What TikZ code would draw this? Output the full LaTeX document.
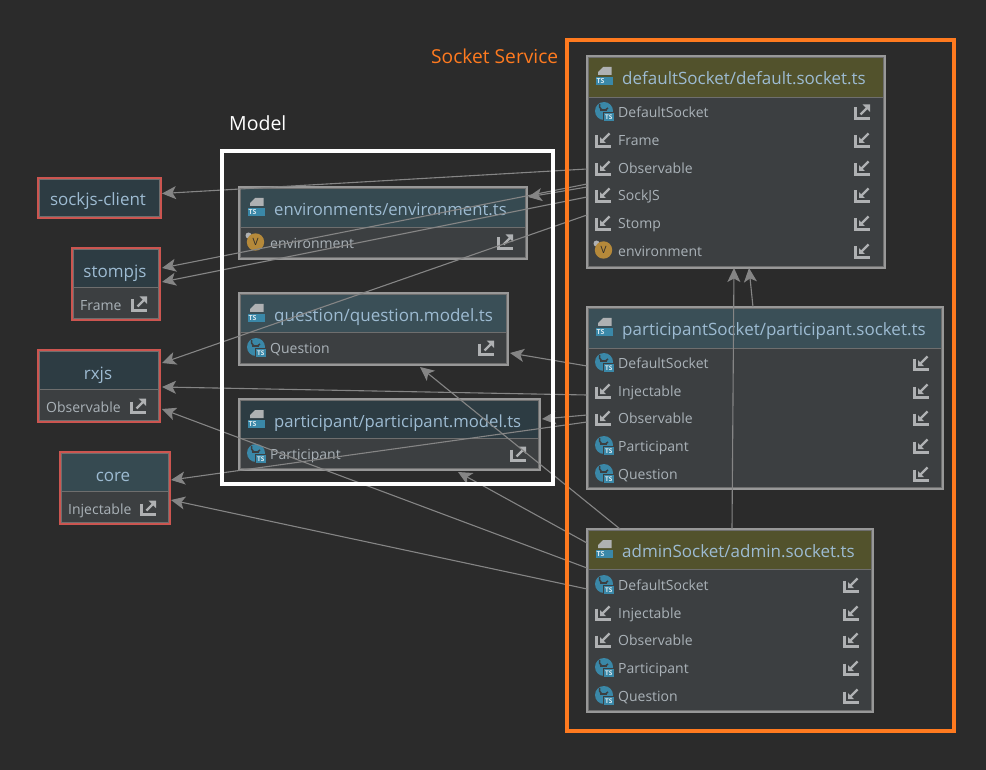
\documentclass[tikz,border=0pt]{standalone}
\usepackage{fontspec}
\setmainfont{Open Sans}
\usetikzlibrary{calc,arrows.meta}
\definecolor{bgc}{HTML}{2B2B2B}
\definecolor{bodyc}{HTML}{3C3F41}
\definecolor{olive}{HTML}{52522C}
\definecolor{tealA}{HTML}{364A51}
\definecolor{tealB}{HTML}{3A4F57}
\definecolor{tealC}{HTML}{2D3C43}
\definecolor{edgec}{HTML}{989898}
\definecolor{innerc}{HTML}{6E6E6E}
\definecolor{redc}{HTML}{CC5550}
\definecolor{headtxt}{HTML}{9DBBD2}
\definecolor{rowtxt}{HTML}{AAB2B8}
\definecolor{iconc}{HTML}{AFB1B3}
\definecolor{blueic}{HTML}{3A88A8}
\definecolor{orangeic}{HTML}{B5893A}
\definecolor{orangec}{HTML}{FF7A1F}
\definecolor{linec}{HTML}{858585}
\newcommand{\hfont}{\fontsize{17}{20}\selectfont}
\newcommand{\hfontn}{\fontsize{16.7}{20}\selectfont}
\newcommand{\rfont}{\fontsize{14}{16}\selectfont}
\tikzset{
  x=1pt,y=-1pt,
  umlouter/.style={rectangle,draw=edgec,line width=2pt,fill=bodyc,inner sep=0pt,outer sep=0pt,anchor=north west},
  umlhead/.style={rectangle,draw=innerc,line width=1.2pt,inner sep=0pt,outer sep=0pt,anchor=north west},
  headlabel/.style={text=headtxt,font=\hfont,inner sep=0pt,anchor=base west,yshift=-6.5pt},
  liblabel/.style={text=headtxt,font=\hfont,inner sep=0pt,anchor=base,yshift=-6.5pt},
  rowlabel/.style={text=rowtxt,font=\rfont,inner sep=0pt,anchor=base west,yshift=-5.3pt},
  conn/.style={draw=linec,line width=1.1pt,-{Stealth[length=14pt,width=13pt,inset=3.5pt,fill=linec]}},
  pics/iconin/.style={code={
    \draw[iconc,line width=2.8pt] (-6.3,-4.5) -- (-6.3,6.3) -- (7.5,6.3);
    \draw[iconc,line width=2.2pt] (6.5,-6.5) -- (-1,1);
    \fill[iconc] (-3,-2.8) -- (-3,3) -- (2.8,3) -- cycle;
  }},
  pics/iconout/.style={code={
    \draw[iconc,line width=2.8pt] (-6.3,-4.5) -- (-6.3,6.3) -- (7.5,6.3);
    \draw[iconc,line width=2.2pt] (-1.5,2.5) -- (6,-5);
    \fill[iconc] (0.5,-7.5) -- (8,-7.5) -- (8,0) -- cycle;
  }},
  pics/tsfile/.style={code={
    \fill[iconc] (-6,-3) -- (-6,-6) -- (-1,-11) -- (7.5,-11) -- (7.5,-3) -- cycle;
    \fill[blueic] (-8.5,-1) rectangle (9,7);
    \node[text=white!80!blueic,font=\fontsize{7}{8}\bfseries\selectfont,inner sep=0pt] at (-3.5,3) {TS};
  }},
  pics/classic/.style={code={
    \fill[blueic] (1,-1) circle (9);
    \draw[bodyc,line width=1.5pt] (5,-4) arc (30:200:4.6);
    \draw[bodyc,line width=1.5pt] (-3.5,-2) -- (4,-2);
    \fill[blueic,draw=bodyc,line width=.8pt] (0.5,0.5) rectangle (11,9.5);
    \node[text=white!85!blueic,font=\fontsize{6.5}{7}\bfseries\selectfont,inner sep=0pt] at (5.7,5) {TS};
  }},
  pics/varic/.style={code={
    \fill[iconc] (-6.5,-7.5) circle (3);
    \fill[orangeic] (0.5,-1) circle (8.7);
    \node[text=bgc,font=\fontsize{10}{11}\selectfont,inner sep=0pt] at (0.5,-1) {V};
  }},
}
% name, x, y, w, h, header height, header colour, border colour, border width
\newcommand{\umlbox}[9]{%
  \node[umlouter,draw=#8,line width=#9,minimum width=#4,minimum height=#5] (#1) at (#2,#3) {};
  \node[umlhead,fill=#7,minimum width=#4-1pt,minimum height=#6] (#1h) at ($(#1.north west)+(0.5,0.5)$) {};
  \draw[innerc,line width=.7pt] ($(#1.north west)+(1.4,1.4)$) rectangle ($(#1.south east)+(-1.4,-1.4)$);
  \draw[#8,line width=#9] (#1.north west) rectangle (#1.south east);
}
\begin{document}
\begin{tikzpicture}
\useasboundingbox (0,0) rectangle (986,770);
\fill[bgc] (0,0) rectangle (986,770);

% ---- boxes
\umlbox{d}{587}{56}{298pt}{212pt}{41pt}{olive}{edgec}{1.6pt}
\umlbox{p}{587}{307}{356pt}{182pt}{41pt}{tealB}{edgec}{1.6pt}
\umlbox{a}{587}{529}{286pt}{183pt}{40pt}{olive}{edgec}{1.6pt}
\umlbox{e}{239}{187}{288pt}{72pt}{40pt}{tealA}{edgec}{2.4pt}
\umlbox{q}{239}{293}{269pt}{72pt}{39pt}{tealB}{edgec}{2.4pt}
\umlbox{m}{239}{399}{301pt}{71pt}{39pt}{tealC}{edgec}{2.4pt}
\umlbox{s}{38}{178}{123pt}{40pt}{40pt}{tealC}{redc}{1.6pt}
\umlbox{st}{72}{248}{88pt}{72pt}{39pt}{tealC}{redc}{1.6pt}
\umlbox{r}{38}{350}{122pt}{72pt}{39pt}{tealC}{redc}{1.6pt}
\umlbox{c}{60}{452}{110pt}{72pt}{39pt}{tealA}{redc}{1.6pt}

% ---- header labels
\pic at (604,78) {tsfile};
\node[headlabel] (dt) at (622,78) {defaultSocket/default.socket.ts};
\pic at (604,329) {tsfile};
\node[headlabel] (pt) at (622,329) {participantSocket/participant.socket.ts};
\pic at (604,551) {tsfile};
\node[headlabel] (at) at (622,551) {adminSocket/admin.socket.ts};
\pic at (256,209) {tsfile};
\node[headlabel,font=\hfontn] (et) at (274,209) {environments/environment.ts};
\pic at (256,315) {tsfile};
\node[headlabel] (qt) at (274,315) {question/question.model.ts};
\pic at (256,421) {tsfile};
\node[headlabel,font=\hfontn] (mt) at (274,421) {participant/participant.model.ts};
\node[liblabel] (st1) at (98,199) {sockjs-client};
\node[liblabel] (st2) at (115,271) {stompjs};
\node[liblabel] (st3) at (98,373) {rxjs};
\node[liblabel] (st4) at (113,475) {core};

% ---- default socket rows
\pic at (603,112) {classic};
\node[rowlabel] (d1) at (618,112) {DefaultSocket};
\pic at (862,112) {iconout};
\pic at (603,140) {iconin};
\node[rowlabel] (d2) at (618,140) {Frame};
\pic at (862,140) {iconin};
\pic at (603,168) {iconin};
\node[rowlabel] (d3) at (618,168) {Observable};
\pic at (862,168) {iconin};
\pic at (603,195) {iconin};
\node[rowlabel] (d4) at (618,195) {SockJS};
\pic at (862,195) {iconin};
\pic at (603,223) {iconin};
\node[rowlabel] (d5) at (618,223) {Stomp};
\pic at (862,223) {iconin};
\pic at (603,251) {varic};
\node[rowlabel] (d6) at (618,251) {environment};
\pic at (862,251) {iconin};

% ---- participant socket rows
\pic at (603,363) {classic};
\node[rowlabel] (p1) at (618,363) {DefaultSocket};
\pic at (921,363) {iconin};
\pic at (603,391) {iconin};
\node[rowlabel] (p2) at (618,391) {Injectable};
\pic at (921,391) {iconin};
\pic at (603,418) {iconin};
\node[rowlabel] (p3) at (618,418) {Observable};
\pic at (921,418) {iconin};
\pic at (603,446) {classic};
\node[rowlabel] (p4) at (618,446) {Participant};
\pic at (921,446) {iconin};
\pic at (603,474) {classic};
\node[rowlabel] (p5) at (618,474) {Question};
\pic at (921,474) {iconin};

% ---- admin socket rows
\pic at (603,585) {classic};
\node[rowlabel] (a1) at (618,585) {DefaultSocket};
\pic at (851,585) {iconin};
\pic at (603,613) {iconin};
\node[rowlabel] (a2) at (618,613) {Injectable};
\pic at (851,613) {iconin};
\pic at (603,640) {iconin};
\node[rowlabel] (a3) at (618,640) {Observable};
\pic at (851,640) {iconin};
\pic at (603,668) {classic};
\node[rowlabel] (a4) at (618,668) {Participant};
\pic at (851,668) {iconin};
\pic at (603,696) {classic};
\node[rowlabel] (a5) at (618,696) {Question};
\pic at (851,696) {iconin};

% ---- model rows
\pic at (255,243) {varic};
\node[rowlabel] (e1) at (270,243) {environment};
\pic at (505,242) {iconout};
\pic at (255,348) {classic};
\node[rowlabel] (q1) at (270,348) {Question};
\pic at (486,348) {iconout};
\pic at (255,454) {classic};
\node[rowlabel] (m1) at (270,454) {Participant};
\pic at (518,454) {iconout};

% ---- library rows
\node[rowlabel] (st5) at (80,305) {Frame};
\pic at (139,304) {iconout};
\node[rowlabel] (r1) at (46,407) {Observable};
\pic at (138,406) {iconout};
\node[rowlabel] (c1) at (68,509) {Injectable};
\pic at (148,508) {iconout};

% ---- connectors
\draw[conn] ($(d.north west)+(0,113)$) -- ($(s.north east)+(1,15.5)$);
\draw[conn] ($(d.north west)+(0,131)$) -- ($(e.north east)+(1,10)$);
\draw[conn] ($(d.north west)+(0,128)$) -- ($(st.north east)+(2,20)$);
\draw[conn] ($(d.north west)+(0,141)$) -- ($(st.north east)+(2,34)$);
\draw[conn] ($(d.north west)+(0,159)$) -- ($(r.north east)+(2,13)$);
\draw[conn] ($(p.north west)+(166,0)$) -- ($(d.south west)+(162,0)$);
\draw[conn] ($(a.north west)+(145,0)$) -- ($(d.south west)+(147,0)$);
\draw[conn] ($(p.north west)+(0,59)$) -- ($(q.north east)+(2,60)$);
\draw[conn] ($(p.north west)+(0,88)$) -- ($(r.north east)+(2,37)$);
\draw[conn] ($(p.north west)+(0,108)$) -- ($(m.north east)+(2,20)$);
\draw[conn] ($(p.north west)+(0,115)$) -- ($(c.north east)+(1,28)$);
\draw[conn] ($(a.north west)+(33,0)$) -- ($(q.south west)+(181,2)$);
\draw[conn] ($(a.north west)+(0,14)$) -- ($(m.south west)+(219,2)$);
\draw[conn] ($(a.north west)+(0,39)$) -- ($(r.north east)+(2,59)$);
\draw[conn] ($(a.north west)+(0,60)$) -- ($(c.north east)+(1,48)$);

% ---- annotation frames
\draw[white,line width=4pt] (222,151) rectangle (553,484);
\draw[orangec,line width=4.5pt] (567,40) rectangle (954,731);
\node[text=white,font=\fontsize{19.5}{22}\selectfont,inner sep=0pt,anchor=west] (modellabel) at (229,123) {Model};
\node[text=orangec,font=\fontsize{19.2}{22}\selectfont,inner sep=0pt,anchor=west] (socketlabel) at (431,56) {Socket Service};
\end{tikzpicture}
\end{document}
